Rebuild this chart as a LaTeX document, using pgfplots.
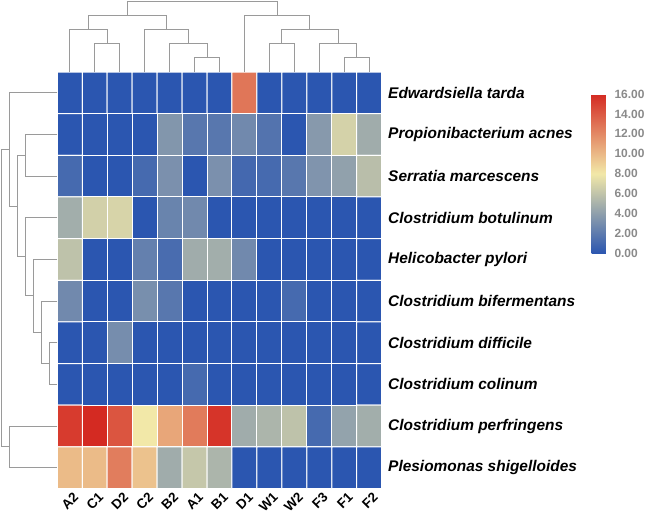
\documentclass[border=0pt]{standalone}
\usepackage{pgfplots}
\pgfplotsset{compat=1.18}
\usepackage{fontspec}
\setmainfont{Liberation Sans}
\definecolor{dendro}{HTML}{9A9A9A}
\definecolor{cbgray}{HTML}{8A8A8A}
\begin{document}
\begin{tikzpicture}
\begin{axis}[
 at={(0,0)}, anchor=north west,
 scale only axis, width=324.4bp, height=416.5bp,
 xmin=-0.5, xmax=12.5, ymin=-0.5, ymax=9.5, y dir=reverse,
 clip=false,
 axis line style={draw=none}, tick style={draw=none},
 xtick={0,...,12},
 xticklabels={A2,C1,D2,C2,B2,A1,B1,D1,W1,W2,F3,F1,F2},
 ytick={0,...,9},
 yticklabels={Edwardsiella tarda,Propionibacterium acnes,Serratia marcescens,Clostridium botulinum,Helicobacter pylori,Clostridium bifermentans,Clostridium difficile,Clostridium colinum,Clostridium perfringens,Plesiomonas shigelloides},
 yticklabel pos=right,
 x tick label style={rotate=45, anchor=north east, font=\bfseries\fontsize{13.5}{14}\selectfont, inner sep=1bp, yshift=-3bp, xshift=1bp},
 y tick label style={anchor=west, inner sep=0pt, xshift=6.3bp, font=\bfseries\itshape\fontsize{15.5}{16}\selectfont},
 colormap={hm}{rgb255(0cm)=(43,86,176) rgb255(1cm)=(242,232,168) rgb255(2cm)=(212,42,34)},
 point meta min=0, point meta max=16,
 colorbar,
 colorbar style={
  at={(parent axis.north east)}, anchor=north west,
  xshift=201.5bp, yshift=-22bp,
  scale only axis, width=19.3bp, height=159.3bp,
  axis line style={draw=none}, ytick style={draw=none},
  ytick={0,2,...,16},
  yticklabel style={font=\bfseries\fontsize{12}{12}\selectfont, text=cbgray,
   /pgf/number format/fixed, /pgf/number format/fixed zerofill,
   /pgf/number format/precision=2, /pgf/number format/assume math mode=true},
 },
]
\addplot[matrix plot*, mesh/cols=13, point meta=explicit, draw=white, line width=1bp] table[meta=c] {
x y c
0 0 0
1 0 0
2 0 0
3 0 0
4 0 0
5 0 0
6 0 0
7 0 12.8
8 0 0
9 0 0
10 0 0
11 0 0
12 0 0
0 1 0
1 1 0
2 1 0
3 1 0
4 1 3.5
5 1 1.8
6 1 1.8
7 1 2.8
8 1 1.6
9 1 0
10 1 3.7
11 1 6.8
12 1 4.7
0 2 1.1
1 2 0
2 2 0
3 2 1.1
4 2 3.2
5 2 0
6 2 3.2
7 2 1.0
8 2 1.1
9 2 1.8
10 2 3.4
11 2 4.1
12 2 5.7
0 3 4.8
1 3 6.7
2 3 6.9
3 3 0
4 3 2.5
5 3 2.8
6 3 0
7 3 0
8 3 0
9 3 0
10 3 0
11 3 0
12 3 0
0 4 5.9
1 4 0
2 4 0
3 4 2.3
4 4 1.2
5 4 4.7
6 4 4.8
7 4 2.8
8 4 0
9 4 0
10 4 0
11 4 0
12 4 0
0 5 2.8
1 5 0
2 5 0
3 5 3.1
4 5 1.8
5 5 0
6 5 0
7 5 0
8 5 0
9 5 1.1
10 5 0
11 5 0
12 5 0
0 6 0
1 6 0
2 6 3.0
3 6 0
4 6 0
5 6 0
6 6 0
7 6 0
8 6 0
9 6 0
10 6 0
11 6 0
12 6 0
0 7 0
1 7 0
2 7 0
3 7 0
4 7 0
5 7 1.1
6 7 0
7 7 0
8 7 0
9 7 0
10 7 0
11 7 0
12 7 0
0 8 15.3
1 8 16
2 8 14.2
3 8 8.0
4 8 10.8
5 8 12.6
6 8 15.6
7 8 4.7
8 8 5.2
9 8 5.9
10 8 1.1
11 8 4.2
12 8 4.8
0 9 9.9
1 9 9.9
2 9 12.5
3 9 9.6
4 9 4.7
5 9 6.2
6 9 5.2
7 9 0
8 9 0
9 9 0
10 9 0
11 9 0
12 9 0
};
% top dendrogram
\addplot[dendro, line width=1bp, no marks] coordinates {(1,-0.5)(1,-1.177)(2,-1.177)(2,-0.5)};
\addplot[dendro, line width=1bp, no marks] coordinates {(0,-0.5)(0,-1.5155)(1.5,-1.5155)(1.5,-1.177)};
\addplot[dendro, line width=1bp, no marks] coordinates {(5,-0.5)(5,-0.8385)(6,-0.8385)(6,-0.5)};
\addplot[dendro, line width=1bp, no marks] coordinates {(4,-0.5)(4,-1.177)(5.5,-1.177)(5.5,-0.8385)};
\addplot[dendro, line width=1bp, no marks] coordinates {(3,-0.5)(3,-1.5155)(4.75,-1.5155)(4.75,-1.177)};
\addplot[dendro, line width=1bp, no marks] coordinates {(0.75,-1.5155)(0.75,-1.854)(3.875,-1.854)(3.875,-1.5155)};
\addplot[dendro, line width=1bp, no marks] coordinates {(8,-0.5)(8,-1.177)(9,-1.177)(9,-0.5)};
\addplot[dendro, line width=1bp, no marks] coordinates {(11,-0.5)(11,-0.8385)(12,-0.8385)(12,-0.5)};
\addplot[dendro, line width=1bp, no marks] coordinates {(10,-0.5)(10,-1.177)(11.5,-1.177)(11.5,-0.8385)};
\addplot[dendro, line width=1bp, no marks] coordinates {(8.5,-1.177)(8.5,-1.5155)(10.75,-1.5155)(10.75,-1.177)};
\addplot[dendro, line width=1bp, no marks] coordinates {(7,-0.5)(7,-1.854)(9.625,-1.854)(9.625,-1.5155)};
\addplot[dendro, line width=1bp, no marks] coordinates {(2.3125,-1.854)(2.3125,-2.1925)(8.3125,-2.1925)(8.3125,-1.854)};
% left dendrogram
\addplot[dendro, line width=1bp, no marks] coordinates {(-0.5,6)(-0.8166,6)(-0.8166,7)(-0.5,7)};
\addplot[dendro, line width=1bp, no marks] coordinates {(-0.5,5)(-1.1332,5)(-1.1332,6.5)(-0.8166,6.5)};
\addplot[dendro, line width=1bp, no marks] coordinates {(-0.5,4)(-1.4498,4)(-1.4498,5.75)(-1.1332,5.75)};
\addplot[dendro, line width=1bp, no marks] coordinates {(-0.5,3)(-1.7664,3)(-1.7664,4.875)(-1.4498,4.875)};
\addplot[dendro, line width=1bp, no marks] coordinates {(-0.5,1)(-1.7664,1)(-1.7664,2)(-0.5,2)};
\addplot[dendro, line width=1bp, no marks] coordinates {(-1.7664,1.5)(-2.083,1.5)(-2.083,3.9375)(-1.7664,3.9375)};
\addplot[dendro, line width=1bp, no marks] coordinates {(-0.5,0)(-2.3996,0)(-2.3996,2.71875)(-2.083,2.71875)};
\addplot[dendro, line width=1bp, no marks] coordinates {(-0.5,8)(-2.3996,8)(-2.3996,9)(-0.5,9)};
\addplot[dendro, line width=1bp, no marks] coordinates {(-2.3996,1.359375)(-2.7162,1.359375)(-2.7162,8.5)(-2.3996,8.5)};
\end{axis}
\pgfresetboundingbox
\path[use as bounding box] (-57.3bp,72bp) rectangle (592.7bp,-445bp);
\end{tikzpicture}
\end{document}
